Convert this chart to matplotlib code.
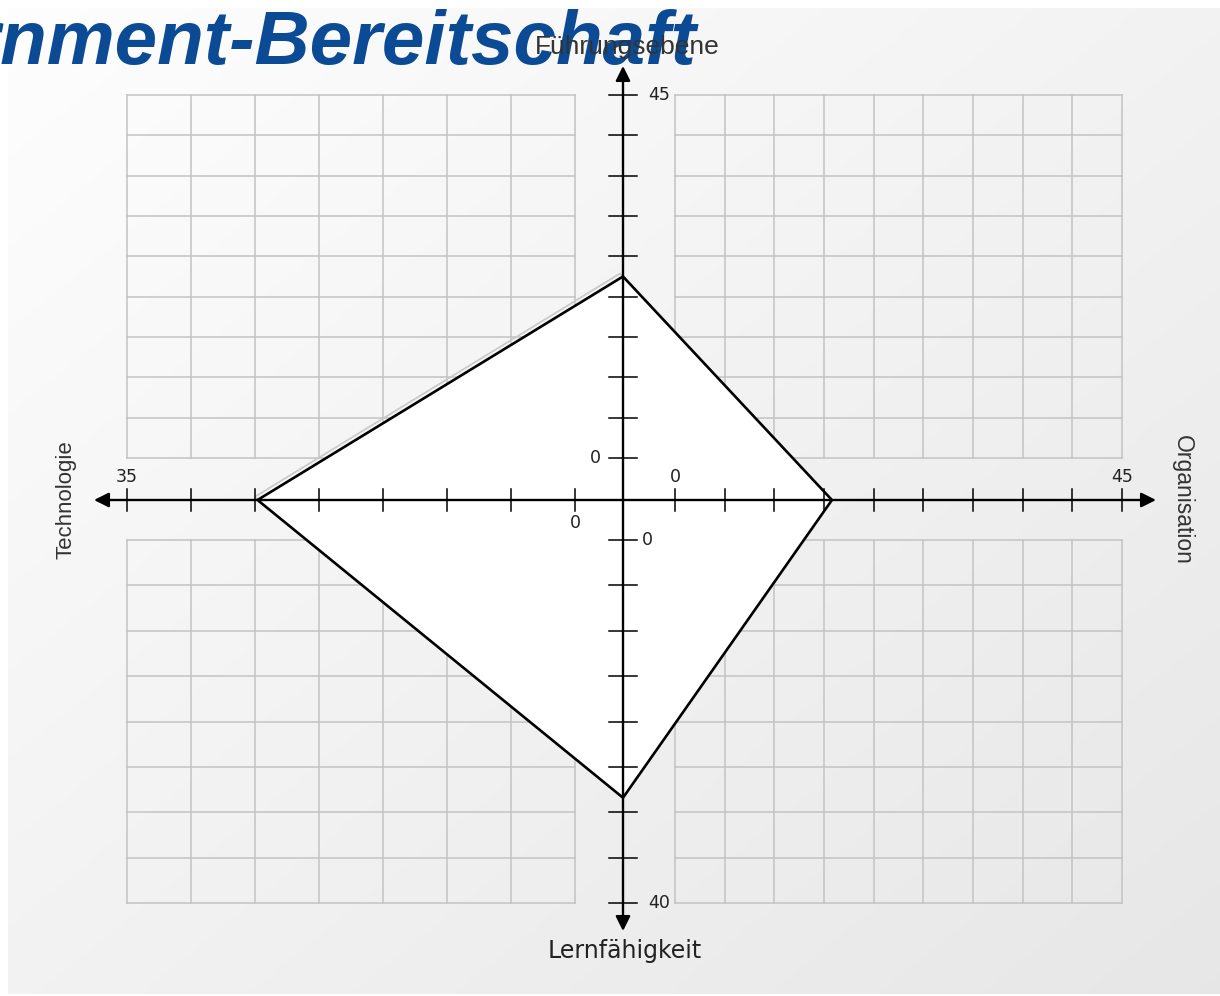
import numpy as np
import matplotlib.pyplot as plt
from matplotlib.patches import FancyArrowPatch, Polygon

# chart data
title = "E-Government-Bereitschaft"
arms = ["top", "right", "bottom", "left"]
arm_labels = ["Führungsebene", "Organisation", "Lernfähigkeit", "Technologie"]
arm_max = [45, 45, 40, 35]
values = [22.5, 15.8, 28.4, 24.8]
tick_step = 5

# layout (pixel positions of value 0 and of the max value on every arm)
W, H = 1220, 996
cx, cy = 623, 500
zero_pos = {"top": 458, "right": 675, "bottom": 540, "left": 575}
max_pos = {"top": 95, "right": 1122, "bottom": 903, "left": 127}


def pos(arm, v):
    i = arms.index(arm)
    return zero_pos[arm] + (max_pos[arm] - zero_pos[arm]) * v / arm_max[i]


def ticks(arm):
    i = arms.index(arm)
    return [pos(arm, v) for v in np.arange(0, arm_max[i] + 0.1, tick_step)]


fig = plt.figure(figsize=(W / 100, H / 100), dpi=100)
ax = fig.add_axes([0, 0, 1, 1])
ax.set_xlim(0, W)
ax.set_ylim(H, 0)
ax.axis("off")

# background panel with soft gradient
gx, gy = np.meshgrid(np.linspace(0, 1, 200), np.linspace(0, 1, 200))
grad = 0.995 - 0.09 * (gx * 0.5 + gy * 0.5)
ax.imshow(np.dstack([grad] * 3), extent=[8, W, 994, 8], zorder=0, aspect="auto")

# quadrant grids
grid_kw = dict(color="#c3c3c3", lw=1.1, zorder=1)
for hx in ["left", "right"]:
    for vy in ["top", "bottom"]:
        xs, ys = ticks(hx), ticks(vy)
        for x in xs:
            ax.plot([x, x], [min(ys), max(ys)], **grid_kw)
        for y in ys:
            ax.plot([min(xs), max(xs)], [y, y], **grid_kw)

# polygon of the values
pts = [(cx, pos("top", values[0])), (pos("right", values[1]), cy),
       (cx, pos("bottom", values[2])), (pos("left", values[3]), cy)]
shadow = [(x - 3, y - 3) for x, y in pts]
ax.add_patch(Polygon(shadow, closed=True, fc="none", ec="#c8c8c8", lw=1.2, zorder=2))
ax.add_patch(Polygon(pts, closed=True, fc="white", ec="none", zorder=2))

# axes with arrows
arrow_kw = dict(arrowstyle="-|>", mutation_scale=22, color="black", lw=1.7,
                shrinkA=0, shrinkB=0, zorder=4)
ax.add_patch(FancyArrowPatch((cx, cy), (94, cy), **arrow_kw))
ax.add_patch(FancyArrowPatch((cx, cy), (1156, cy), **arrow_kw))
ax.add_patch(FancyArrowPatch((cx, cy), (cx, 66), **arrow_kw))
ax.add_patch(FancyArrowPatch((cx, cy), (cx, 931), **arrow_kw))

for x in ticks("left") + ticks("right"):
    ax.plot([x, x], [cy - 11, cy + 11], color="black", lw=1.1, zorder=4)
for y in ticks("top") + ticks("bottom"):
    ax.plot([cx - 14, cx + 14], [y, y], color="black", lw=1.1, zorder=4)

ax.add_patch(Polygon(pts, closed=True, fc="none", ec="black", lw=1.9, zorder=5))

# tick labels
tk = dict(fontsize=12.5, color="#222222", family="DejaVu Sans", zorder=6)
ax.text(cx - 22, zero_pos["top"], "0", ha="right", va="center", **tk)
ax.text(zero_pos["right"], cy - 14, "0", ha="center", va="bottom", **tk)
ax.text(zero_pos["left"], cy + 14, "0", ha="center", va="top", **tk)
ax.text(cx + 19, zero_pos["bottom"], "0", ha="left", va="center", **tk)
ax.text(max_pos["left"], cy - 14, str(arm_max[3]), ha="center", va="bottom", **tk)
ax.text(max_pos["right"], cy - 14, str(arm_max[1]), ha="center", va="bottom", **tk)
ax.text(cx + 25, max_pos["top"], str(arm_max[0]), ha="left", va="center", **tk)
ax.text(cx + 25, max_pos["bottom"], str(arm_max[2]), ha="left", va="center", **tk)

# title
ax.text(697, 64, title, ha="right", va="baseline", fontsize=55, fontweight="bold",
        fontstyle="italic", family="Liberation Sans", color="#0b4a94", zorder=6)

# arm labels
lab = dict(color="#333333", family="Liberation Sans", zorder=7)
ax.text(cx + 4, 47, arm_labels[0], ha="center", va="center", fontsize=19, **lab)
ax.text(1182, cy, arm_labels[1], ha="center", va="center", rotation=270,
        fontsize=16.5, **lab)
ax.text(cx + 2, 951, arm_labels[2], ha="center", va="center", fontsize=17,
        color="#222222", family="DejaVu Sans", zorder=7)
ax.text(66, cy, arm_labels[3], ha="center", va="center", rotation=90,
        fontsize=16, **lab)

fig.savefig("out.png", dpi=100)
